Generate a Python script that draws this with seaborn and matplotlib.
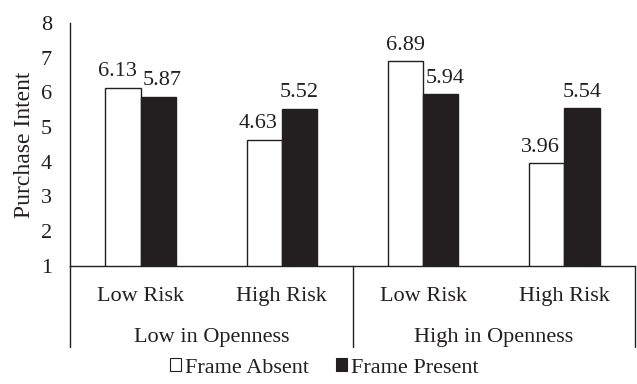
import matplotlib
matplotlib.use("Agg")
import matplotlib.pyplot as plt
from matplotlib.patches import Patch
import pandas as pd
import seaborn as sns

# Data
openness = ["Low in Openness", "High in Openness"]
risk = ["Low Risk", "High Risk"]
frames = ["Frame Absent", "Frame Present"]
frame_absent = [6.13, 4.63, 6.89, 3.96]
frame_present = [5.87, 5.52, 5.94, 5.54]

INK = "#231F20"

sns.set_style("white")
plt.rcParams["font.family"] = ["Liberation Serif", "DejaVu Serif"]
plt.rcParams["text.color"] = INK
plt.rcParams["axes.labelcolor"] = INK
plt.rcParams["xtick.color"] = INK
plt.rcParams["ytick.color"] = INK

cells = [f"{o}|{r}" for o in openness for r in risk]
df = pd.DataFrame({
    "cell": cells * 2,
    "frame": [frames[0]] * 4 + [frames[1]] * 4,
    "value": frame_absent + frame_present,
})

W, H, DPI = 637, 384, 100
fig = plt.figure(figsize=(W / DPI, H / DPI), dpi=DPI)
ax_left, ax_right, ax_top, ax_bottom = 70, 635, 23, 265.7
ax = fig.add_axes([ax_left / W, 1 - ax_bottom / H,
                   (ax_right - ax_left) / W, (ax_bottom - ax_top) / H])
ax_h = ax_bottom - ax_top
ax_w = ax_right - ax_left

sns.barplot(data=df, x="cell", y="value", hue="frame", order=cells,
            hue_order=frames, palette=["white", INK], width=0.5,
            edgecolor=INK, linewidth=1.0, saturation=1, errorbar=None,
            legend=False, ax=ax)

fs = 16
ax.set_ylim(1, 8)
ax.set_xlim(-0.5, 3.5)
ax.set_yticks(range(1, 9))
ax.tick_params(axis="y", length=0, pad=13, labelsize=fs)
ax.set_xticks([])
ax.set_xlabel("")
ax.set_ylabel("Purchase Intent", fontsize=17)
ax.yaxis.set_label_coords((35 - ax_left) / ax_w, 0.5)
for side in ("top", "right"):
    ax.spines[side].set_visible(False)
for side in ("left", "bottom"):
    ax.spines[side].set_color(INK)
    ax.spines[side].set_linewidth(1.0)

# Value labels above the bars; a label is nudged sideways away from its neighbour
nudge = 6
for i in range(4):
    a, p = frame_absent[i], frame_present[i]
    if abs(a - p) < 0.4:
        offs = [-nudge, nudge * 0.6]
    elif a < p:
        offs = [-nudge, 0]
    else:
        offs = [0, nudge * 0.7]
    for k, cont in enumerate(ax.containers):
        bar = cont[i]
        v = bar.get_height()
        ax.annotate(f"{v:.2f}", xy=(bar.get_x() + bar.get_width() / 2, v),
                    xytext=(offs[k], 11.5), textcoords="offset pixels",
                    ha="center", va="baseline", fontsize=fs, color=INK)

# Two-level category axis
trans = ax.get_xaxis_transform()
for i, c in enumerate(cells):
    ax.text(i, -35 / ax_h, c.split("|")[1], transform=trans,
            ha="center", va="baseline", fontsize=fs)
for j, o in enumerate(openness):
    ax.text(2 * j + 0.5, -76 / ax_h, o, transform=trans,
            ha="center", va="baseline", fontsize=fs)
for xs in (-0.5, 1.5, 3.5):
    ax.plot([xs, xs], [0, -81 / ax_h], transform=trans, color=INK,
            lw=1.0, clip_on=False)

# Legend
handles = [Patch(facecolor="white", edgecolor=INK, linewidth=0.8),
           Patch(facecolor=INK, edgecolor=INK, linewidth=0.8)]
fig.legend(handles, frames, loc="center", bbox_to_anchor=(0.509, 1 - 368 / H),
           ncol=2, frameon=False, fontsize=fs, handlelength=0.5,
           handleheight=0.5, handletextpad=0.15, columnspacing=1.25,
           borderpad=0, borderaxespad=0)

fig.savefig("out.png", dpi=DPI)
